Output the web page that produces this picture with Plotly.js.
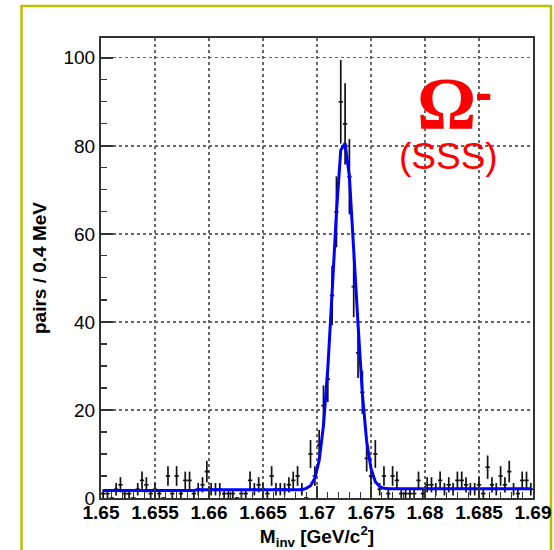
<!DOCTYPE html>
<html>
<head>
<meta charset="utf-8">
<script src="https://cdn.plot.ly/plotly-3.0.1.min.js"></script>
<style>html,body{margin:0;padding:0;background:#fff;}#chart{width:554px;height:550px;}</style>
</head>
<body>
<div id="chart"></div>
<script>
// Bin centers (0.4 MeV bins, 1.65 - 1.69 GeV/c^2)
const binLow = 1.65;
const binWidth = 0.0004;
// Counts per bin (100 bins)
const counts = [
  1, 1, 0, 2, 3, 1, 1, 0, 2, 4,
  3, 1, 2, 1, 0, 5, 1, 5, 1, 4,
  4, 1, 2, 3, 6, 2, 2, 2, 1, 1,
  1, 0, 1, 1, 4, 2, 3, 2, 1, 5,
  2, 2, 2, 3, 4, 5, 2, 0, 10, 5,
  12, 21, 27, 46, 65, 90, 85, 73, 48, 33,
  24, 9, 5, 10, 2, 5, 1, 5, 4, 1,
  1, 1, 1, 4, 1, 3, 3, 2, 4, 2,
  3, 2, 4, 4, 3, 2, 2, 3, 1, 7,
  3, 2, 5, 3, 6, 2, 1, 4, 4, 2
];
// Fit curve value at each bin center
const fitValues = [
  1.7, 1.7, 1.7, 1.7, 1.7, 1.7, 1.7, 1.7, 1.7, 1.7,
  1.7, 1.7, 1.7, 1.7, 1.7, 1.7, 1.7, 1.7, 1.7, 1.7,
  1.7, 1.7, 1.9, 1.9, 1.9, 1.9, 1.9, 1.9, 1.9, 1.9,
  1.9, 1.9, 1.9, 1.9, 1.9, 1.9, 1.9, 1.9, 1.9, 1.9,
  1.9, 1.9, 1.9, 1.9, 1.9, 1.9, 1.9, 2.2, 2.8, 4.5,
  8.5, 16.5, 29.4, 46.7, 64.9, 79.0, 80.6, 73.0, 57.5, 39.5,
  23.7, 12.8, 6.7, 3.7, 2.6, 2.2, 2.1, 2.1, 2.1, 2.1,
  2.1, 2.1, 2.1, 2.1, 2.1, 2.1, 2.1, 2.1, 2.1, 2.1,
  2.1, 2.1, 2.1, 2.1, 2.1, 2.1, 2.1, 2.1, 2.1, 2.1,
  2.1, 2.1, 2.1, 2.1, 2.1, 2.1, 2.1, 2.1, 2.1, 2.1
];
const xTickVals = [1.65, 1.655, 1.66, 1.665, 1.67, 1.675, 1.68, 1.685, 1.69];
const xTickText = ["1.65", "1.655", "1.66", "1.665", "1.67", "1.675", "1.68", "1.685", "1.69"];
const yTickVals = [0, 20, 40, 60, 80, 100];
const yTickText = ["0", "20", "40", "60", "80", "100"];

const binCenters = counts.map((_, i) => +(binLow + binWidth * (i + 0.5)).toFixed(5));

const dataTrace = {
  x: binCenters, y: counts, type: 'scatter', mode: 'markers',
  marker: {size: 1, color: '#000'},
  error_y: {type: 'sqrt', visible: true, color: '#111', thickness: 1.7, width: 0},
  error_x: {type: 'constant', value: binWidth / 2, visible: true, color: '#111', thickness: 1.7, width: 0},
  hoverinfo: 'skip', showlegend: false
};
const fitTrace = {
  x: binCenters, y: fitValues, type: 'scatter', mode: 'lines',
  line: {color: '#0000ff', width: 3}, showlegend: false, hoverinfo: 'skip'
};

// pixel -> paper helpers for placing labels (plot area 101..533 x 38..498)
const px = v => (v - 101) / 432;
const py = v => (498 - v) / 460;

const layout = {
  width: 554, height: 550,
  margin: {l: 101, r: 21, t: 38, b: 52},
  paper_bgcolor: '#fff', plot_bgcolor: '#fff',
  showlegend: false,
  font: {family: 'Liberation Sans, Arial, sans-serif', color: '#000'},
  xaxis: {
    range: [1.65, 1.69], tickvals: xTickVals, ticktext: xTickText,
    ticks: 'inside', ticklen: 12, tickwidth: 1.5, tickcolor: '#333',
    ticklabelstandoff: -4,
    minor: {dtick: 0.001, tick0: 1.65, ticks: 'inside', ticklen: 6, tickwidth: 1.2, tickcolor: '#333', showgrid: false},
    showline: true, linecolor: '#333', linewidth: 2, mirror: true,
    showgrid: true, gridcolor: '#666', griddash: 'dot', gridwidth: 1.3,
    zeroline: false,
    tickfont: {family: 'Liberation Sans, Arial, sans-serif', size: 19, weight: 'bold', color: '#000'},
    title: {text: 'M<sub>inv</sub> [GeV/c<sup>2</sup>]', standoff: 8,
      font: {family: 'Liberation Sans, Arial, sans-serif', size: 19, weight: 'bold', color: '#000'}}
  },
  yaxis: {
    range: [0, 104.5], tickvals: yTickVals, ticktext: yTickText,
    ticks: 'inside', ticklen: 12, tickwidth: 1.5, tickcolor: '#333',
    minor: {dtick: 5, tick0: 0, ticks: 'inside', ticklen: 6, tickwidth: 1.2, tickcolor: '#333', showgrid: false},
    showline: true, linecolor: '#333', linewidth: 2, mirror: true,
    showgrid: true, gridcolor: '#666', griddash: 'dot', gridwidth: 1.3,
    zeroline: false,
    tickfont: {family: 'Liberation Sans, Arial, sans-serif', size: 19, color: '#000'},
    title: {text: 'pairs / 0.4 MeV', standoff: 12,
      font: {family: 'Liberation Sans, Arial, sans-serif', size: 19, weight: 'bold', color: '#000'}}
  },
  shapes: [{
    type: 'rect', xref: 'paper', yref: 'paper',
    x0: px(21.5), x1: px(551), y0: py(570), y1: py(6),
    line: {color: '#bdbd00', width: 2.5}, fillcolor: 'rgba(0,0,0,0)', layer: 'below'
  }],
  annotations: [
    {xref: 'paper', yref: 'paper', x: px(446), y: py(104), xanchor: 'center', yanchor: 'middle',
     text: 'Ω', showarrow: false,
     font: {family: 'Liberation Serif, Times New Roman, serif', size: 74, weight: 'bold', color: '#ff0000'}},
    {xref: 'paper', yref: 'paper', x: px(483), y: py(92), xanchor: 'center', yanchor: 'middle',
     text: '-', showarrow: false,
     font: {family: 'Liberation Sans, Arial, sans-serif', size: 52, weight: 'bold', color: '#ff0000'}},
    {xref: 'paper', yref: 'paper', x: px(448), y: py(157), xanchor: 'center', yanchor: 'middle',
     text: '(SSS)', showarrow: false,
     font: {family: 'Liberation Sans, Arial, sans-serif', size: 37, color: '#ff0000'}}
  ]
};

Plotly.newPlot('chart', [dataTrace, fitTrace], layout, {staticPlot: true, displayModeBar: false});
</script>
</body>
</html>
